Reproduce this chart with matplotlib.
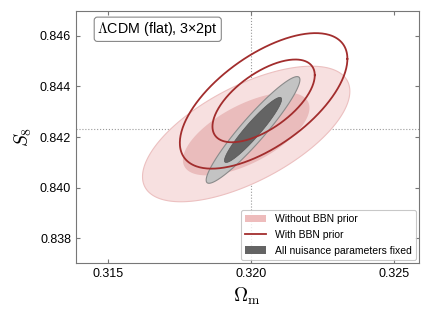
import numpy as np
import matplotlib.pyplot as plt
from matplotlib.patches import Patch
from matplotlib.lines import Line2D

plt.rcParams['font.family'] = ['Liberation Sans', 'DejaVu Sans']
plt.rcParams['mathtext.fontset'] = 'cm'

# fiducial values (dotted cross-hair)
om_fid = 0.320
s8_fid = 0.8423

# posterior summaries: mean, sigma and correlation of (Omega_m, S8)
names = ['Without BBN prior', 'With BBN prior', 'All nuisance parameters fixed']
mean_om = [0.31983, 0.32044, 0.32007]
mean_s8 = [0.84212, 0.84343, 0.84228]
sig_om = [0.00146, 0.00118, 0.00066]
sig_s8 = [0.00108, 0.00108, 0.00085]
rho = [0.63, 0.62, 0.94]

# delta chi^2 for 68% and 95% in 2D
levels = [2.30, 6.17]


def ellipse(i, dchi2, n=300):
    t = np.linspace(0, 2 * np.pi, n)
    cov = np.array([[sig_om[i] ** 2, rho[i] * sig_om[i] * sig_s8[i]],
                    [rho[i] * sig_om[i] * sig_s8[i], sig_s8[i] ** 2]])
    L = np.linalg.cholesky(cov)
    pts = L @ np.vstack([np.cos(t), np.sin(t)]) * np.sqrt(dchi2)
    return mean_om[i] + pts[0], mean_s8[i] + pts[1]


fig = plt.figure(figsize=(4.3, 3.22), dpi=100)
ax = fig.add_axes([0.177, 0.183, 0.797, 0.783])

# without BBN
x, y = ellipse(0, levels[1])
ax.fill(x, y, fc='#f7e0e0', ec='#ecc0c0', lw=0.8, zorder=1)
x, y = ellipse(0, levels[0])
ax.fill(x, y, fc='#eabcbc', ec='none', zorder=2)

# all fixed
x, y = ellipse(2, levels[1])
ax.fill(x, y, fc='#c3c3c3', ec='#8a8a8a', lw=0.8, zorder=3)
x, y = ellipse(2, levels[0])
ax.fill(x, y, fc='#646464', ec='#555555', lw=0.5, zorder=4)

# with BBN
for lv in levels:
    x, y = ellipse(1, lv)
    ax.plot(x, y, color='#a22d2d', lw=1.3, zorder=5)

ax.axvline(om_fid, color='#999999', ls=':', lw=0.8, zorder=0)
ax.axhline(s8_fid, color='#999999', ls=':', lw=0.8, zorder=0)

ax.set_xlim(0.31388, 0.32587)
ax.set_ylim(0.83701, 0.84699)
ax.set_xticks([0.315, 0.320, 0.325])
ax.set_yticks([0.838, 0.840, 0.842, 0.844, 0.846])
ax.tick_params(direction='in', top=True, right=True, labelsize=9,
               length=3, color='#777777')
for s in ax.spines.values():
    s.set_color('#777777')

ax.set_xlabel(r'$\Omega_{\rm m}$', fontsize=14)
ax.set_ylabel(r'$S_8$', fontsize=14)

ax.text(0.062, 0.963, r'$\Lambda$CDM (flat), 3×2pt', transform=ax.transAxes,
        fontsize=10.3, va='top', ha='left',
        bbox=dict(boxstyle='round,pad=0.22', fc='white', ec='#888888', lw=0.8))

handles = [Patch(fc='#eebcbc', ec='none'),
           Line2D([], [], color='#a22d2d', lw=1.3),
           Patch(fc='#646464', ec='none')]
leg = ax.legend(handles, names, loc='lower right', fontsize=7.5, frameon=True,
                fancybox=True, edgecolor='#bbbbbb', borderaxespad=0.3,
                labelspacing=0.55)
leg.get_frame().set_linewidth(0.8)

fig.savefig('out.png', dpi=100)
